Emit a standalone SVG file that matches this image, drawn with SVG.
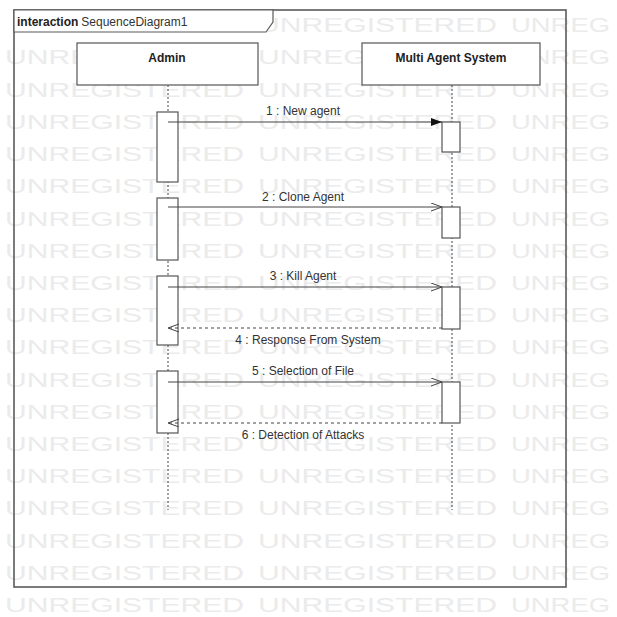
<svg xmlns="http://www.w3.org/2000/svg" width="617" height="617" viewBox="0 0 617 617">
<defs>
<style>
.wm{font-family:"Liberation Sans",Arial,sans-serif;font-size:21px;fill:#ebebeb;}
.frame{fill:none;stroke:#5a5a5a;stroke-width:1.6;}
.hdr{fill:#fff;stroke:#5a5a5a;stroke-width:1.2;}
.box{fill:#fff;stroke:#555;stroke-width:1.2;}
.act{fill:#fff;stroke:#555;stroke-width:1.2;}
.life{stroke:#444;stroke-width:1;stroke-dasharray:2 2;fill:none;}
.msg{stroke:#444;stroke-width:1;fill:none;}
.ret{stroke:#444;stroke-width:1;fill:none;stroke-dasharray:3 3;}
.lbl{font-family:"Liberation Sans",Arial,sans-serif;font-size:12px;fill:#333;text-anchor:middle;}
.name{font-family:"Liberation Sans",Arial,sans-serif;font-size:12px;font-weight:bold;fill:#222;text-anchor:middle;}
</style>
<marker id="filled" markerWidth="12" markerHeight="10" refX="11" refY="4" orient="auto" markerUnits="userSpaceOnUse">
<path d="M0,0 L11,4 L0,8 Z" fill="#111"/>
</marker>
<marker id="open" markerWidth="12" markerHeight="10" refX="11" refY="4" orient="auto" markerUnits="userSpaceOnUse">
<path d="M0,0 L11,4 L0,8" fill="none" stroke="#444" stroke-width="1"/>
</marker>
</defs>
<rect width="617" height="617" fill="#fff"/>
<g id="watermark">
<text class="wm" y="32"><tspan x="258" textLength="239" lengthAdjust="spacingAndGlyphs">UNREGISTERED</tspan><tspan x="511" textLength="99" lengthAdjust="spacingAndGlyphs">UNREG</tspan></text>
<text class="wm" y="64"><tspan x="5" textLength="239" lengthAdjust="spacingAndGlyphs">UNREGISTERED</tspan><tspan x="258" textLength="239" lengthAdjust="spacingAndGlyphs">UNREGISTERED</tspan><tspan x="511" textLength="99" lengthAdjust="spacingAndGlyphs">UNREG</tspan></text>
<text class="wm" y="97"><tspan x="5" textLength="239" lengthAdjust="spacingAndGlyphs">UNREGISTERED</tspan><tspan x="258" textLength="239" lengthAdjust="spacingAndGlyphs">UNREGISTERED</tspan><tspan x="511" textLength="99" lengthAdjust="spacingAndGlyphs">UNREG</tspan></text>
<text class="wm" y="129"><tspan x="5" textLength="239" lengthAdjust="spacingAndGlyphs">UNREGISTERED</tspan><tspan x="258" textLength="239" lengthAdjust="spacingAndGlyphs">UNREGISTERED</tspan><tspan x="511" textLength="99" lengthAdjust="spacingAndGlyphs">UNREG</tspan></text>
<text class="wm" y="161"><tspan x="5" textLength="239" lengthAdjust="spacingAndGlyphs">UNREGISTERED</tspan><tspan x="258" textLength="239" lengthAdjust="spacingAndGlyphs">UNREGISTERED</tspan><tspan x="511" textLength="99" lengthAdjust="spacingAndGlyphs">UNREG</tspan></text>
<text class="wm" y="193"><tspan x="5" textLength="239" lengthAdjust="spacingAndGlyphs">UNREGISTERED</tspan><tspan x="258" textLength="239" lengthAdjust="spacingAndGlyphs">UNREGISTERED</tspan><tspan x="511" textLength="99" lengthAdjust="spacingAndGlyphs">UNREG</tspan></text>
<text class="wm" y="226"><tspan x="5" textLength="239" lengthAdjust="spacingAndGlyphs">UNREGISTERED</tspan><tspan x="258" textLength="239" lengthAdjust="spacingAndGlyphs">UNREGISTERED</tspan><tspan x="511" textLength="99" lengthAdjust="spacingAndGlyphs">UNREG</tspan></text>
<text class="wm" y="258"><tspan x="5" textLength="239" lengthAdjust="spacingAndGlyphs">UNREGISTERED</tspan><tspan x="258" textLength="239" lengthAdjust="spacingAndGlyphs">UNREGISTERED</tspan><tspan x="511" textLength="99" lengthAdjust="spacingAndGlyphs">UNREG</tspan></text>
<text class="wm" y="290"><tspan x="5" textLength="239" lengthAdjust="spacingAndGlyphs">UNREGISTERED</tspan><tspan x="258" textLength="239" lengthAdjust="spacingAndGlyphs">UNREGISTERED</tspan><tspan x="511" textLength="99" lengthAdjust="spacingAndGlyphs">UNREG</tspan></text>
<text class="wm" y="322"><tspan x="5" textLength="239" lengthAdjust="spacingAndGlyphs">UNREGISTERED</tspan><tspan x="258" textLength="239" lengthAdjust="spacingAndGlyphs">UNREGISTERED</tspan><tspan x="511" textLength="99" lengthAdjust="spacingAndGlyphs">UNREG</tspan></text>
<text class="wm" y="354"><tspan x="5" textLength="239" lengthAdjust="spacingAndGlyphs">UNREGISTERED</tspan><tspan x="258" textLength="239" lengthAdjust="spacingAndGlyphs">UNREGISTERED</tspan><tspan x="511" textLength="99" lengthAdjust="spacingAndGlyphs">UNREG</tspan></text>
<text class="wm" y="387"><tspan x="5" textLength="239" lengthAdjust="spacingAndGlyphs">UNREGISTERED</tspan><tspan x="258" textLength="239" lengthAdjust="spacingAndGlyphs">UNREGISTERED</tspan><tspan x="511" textLength="99" lengthAdjust="spacingAndGlyphs">UNREG</tspan></text>
<text class="wm" y="419"><tspan x="5" textLength="239" lengthAdjust="spacingAndGlyphs">UNREGISTERED</tspan><tspan x="258" textLength="239" lengthAdjust="spacingAndGlyphs">UNREGISTERED</tspan><tspan x="511" textLength="99" lengthAdjust="spacingAndGlyphs">UNREG</tspan></text>
<text class="wm" y="451"><tspan x="5" textLength="239" lengthAdjust="spacingAndGlyphs">UNREGISTERED</tspan><tspan x="258" textLength="239" lengthAdjust="spacingAndGlyphs">UNREGISTERED</tspan><tspan x="511" textLength="99" lengthAdjust="spacingAndGlyphs">UNREG</tspan></text>
<text class="wm" y="483"><tspan x="5" textLength="239" lengthAdjust="spacingAndGlyphs">UNREGISTERED</tspan><tspan x="258" textLength="239" lengthAdjust="spacingAndGlyphs">UNREGISTERED</tspan><tspan x="511" textLength="99" lengthAdjust="spacingAndGlyphs">UNREG</tspan></text>
<text class="wm" y="515"><tspan x="5" textLength="239" lengthAdjust="spacingAndGlyphs">UNREGISTERED</tspan><tspan x="258" textLength="239" lengthAdjust="spacingAndGlyphs">UNREGISTERED</tspan><tspan x="511" textLength="99" lengthAdjust="spacingAndGlyphs">UNREG</tspan></text>
<text class="wm" y="548"><tspan x="5" textLength="239" lengthAdjust="spacingAndGlyphs">UNREGISTERED</tspan><tspan x="258" textLength="239" lengthAdjust="spacingAndGlyphs">UNREGISTERED</tspan><tspan x="511" textLength="99" lengthAdjust="spacingAndGlyphs">UNREG</tspan></text>
<text class="wm" y="580"><tspan x="5" textLength="239" lengthAdjust="spacingAndGlyphs">UNREGISTERED</tspan><tspan x="258" textLength="239" lengthAdjust="spacingAndGlyphs">UNREGISTERED</tspan><tspan x="511" textLength="99" lengthAdjust="spacingAndGlyphs">UNREG</tspan></text>
<text class="wm" y="612"><tspan x="5" textLength="239" lengthAdjust="spacingAndGlyphs">UNREGISTERED</tspan><tspan x="258" textLength="239" lengthAdjust="spacingAndGlyphs">UNREGISTERED</tspan><tspan x="511" textLength="99" lengthAdjust="spacingAndGlyphs">UNREG</tspan></text>
</g>
<g id="frame">
<rect class="frame" x="14" y="10" width="552" height="577"/>
<path class="hdr" d="M14,10 L273,10 L273,22 L266,32 L14,32 Z"/>
<text x="17" y="26" font-family="'Liberation Sans',Arial,sans-serif" font-size="12" fill="#222"><tspan font-weight="bold">interaction</tspan><tspan dx="3" fill="#333">SequenceDiagram1</tspan></text>
</g>
<g id="admin">
<line class="life" x1="168" y1="85" x2="168" y2="510"/>
<rect class="box" x="77" y="43" width="181" height="42"/>
<text class="name" x="167" y="62">Admin</text>
<rect class="act" x="157" y="112" width="21" height="70"/>
<rect class="act" x="157" y="198" width="21" height="62"/>
<rect class="act" x="157" y="276" width="21" height="69"/>
<rect class="act" x="157" y="371" width="21" height="62"/>
</g>
<g id="mas">
<line class="life" x1="452" y1="85" x2="452" y2="510"/>
<rect class="box" x="362" y="43" width="178" height="42"/>
<text class="name" x="451" y="62">Multi Agent System</text>
<rect class="act" x="442" y="122" width="18" height="30"/>
<rect class="act" x="442" y="207" width="18" height="31"/>
<rect class="act" x="442" y="287" width="18" height="42"/>
<rect class="act" x="442" y="382" width="18" height="41"/>
</g>
<g id="connectors">
<line class="msg" x1="168" y1="122" x2="442" y2="122" marker-end="url(#filled)"/>
<text class="lbl" x="303" y="115">1 : New agent</text>
<line class="msg" x1="168" y1="207" x2="442" y2="207" marker-end="url(#open)"/>
<text class="lbl" x="303" y="201">2 : Clone Agent</text>
<line class="msg" x1="168" y1="287" x2="442" y2="287" marker-end="url(#open)"/>
<text class="lbl" x="303" y="280">3 : Kill Agent</text>
<line class="ret" x1="442" y1="328" x2="168" y2="328" marker-end="url(#open)"/>
<text class="lbl" x="308" y="344">4 : Response From System</text>
<line class="msg" x1="168" y1="382" x2="442" y2="382" marker-end="url(#open)"/>
<text class="lbl" x="303" y="375">5 : Selection of File</text>
<line class="ret" x1="442" y1="423" x2="168" y2="423" marker-end="url(#open)"/>
<text class="lbl" x="303" y="439">6 : Detection of Attacks</text>
</g>
</svg>
